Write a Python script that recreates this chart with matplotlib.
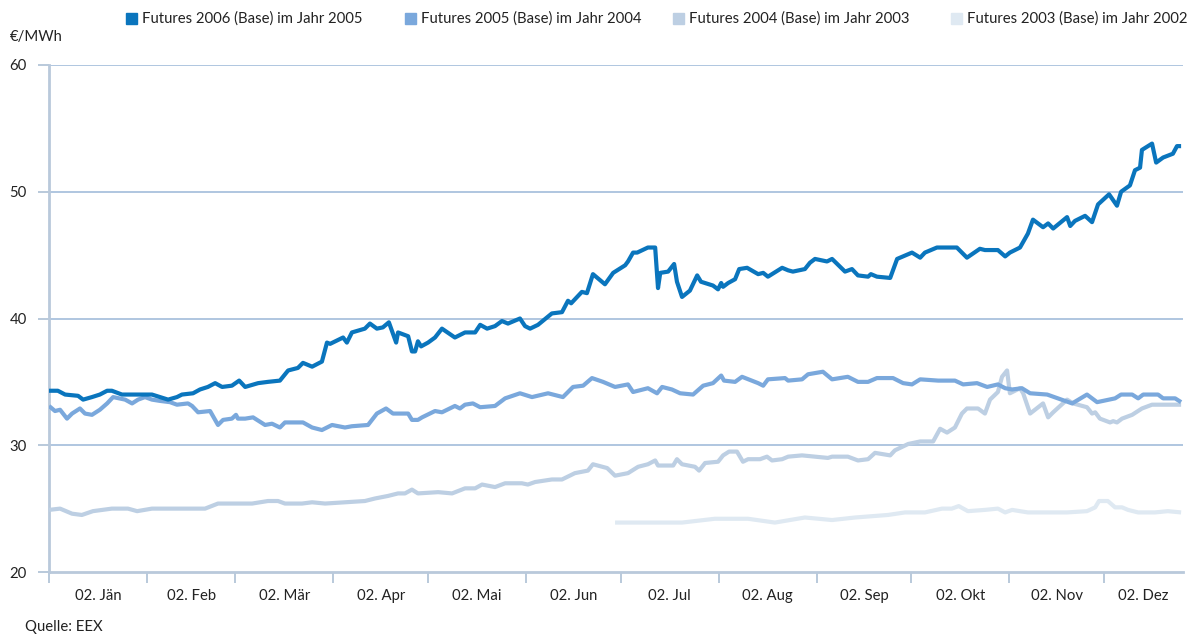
import matplotlib
matplotlib.use('Agg')
import matplotlib.pyplot as plt
from matplotlib.patches import Rectangle
import numpy as np

plt.rcParams['font.family'] = ['Lato', 'DejaVu Sans']

# day of year (0 = 1. Jan) and price in EUR/MWh
days_2006 = [0, 2.8, 5.1, 9.2, 10.8, 13.6, 16.1, 18.4, 19.9, 23.1, 26.3, 30.4, 32.6, 35.1, 37.7,
             40.5, 42.1, 45.6, 47.8, 50.3, 52.6, 54.8, 57.9, 60.2, 62.1, 66.2, 69.3, 73.1, 75.7,
             78.8, 80.4, 83.3, 86.4, 88.0, 89.0, 93.1, 94.3, 95.9, 100.0, 101.6, 103.8, 105.7,
             107.6, 109.9, 110.5, 113.7, 114.9, 115.9, 116.8, 117.8, 120.0, 122.2, 124.4, 128.5,
             131.7, 134.9, 136.5, 138.7, 141.2, 143.4, 145.3, 149.1, 150.7, 152.3, 154.8, 159.2,
             162.4, 164.3, 165.3, 168.7, 170.3, 172.2, 176.0, 178.6, 182.4, 183.3, 184.9, 186.2,
             189.6, 191.9, 192.8, 193.5, 196.0, 197.9, 198.8, 200.4, 202.9, 205.2, 206.4, 210.2,
             211.8, 212.8, 213.4, 215.0, 217.2, 218.5, 221.0, 224.5, 226.1, 227.6, 232.1, 234.0,
             235.5, 239.3, 240.9, 242.5, 246.3, 247.9, 252.0, 254.2, 256.1, 259.3, 260.2, 262.1,
             266.3, 268.5, 270.4, 273.2, 275.8, 277.3, 281.1, 282.7, 287.4, 290.6, 294.7, 296.3,
             300.4, 302.7, 304.2, 307.4, 309.9, 311.5, 314.7, 316.3, 317.9, 322.3, 323.3, 324.8,
             328.0, 330.2, 332.1, 335.6, 338.1, 339.4, 342.2, 343.8, 345.4, 346.0, 349.2, 350.5,
             352.7, 355.8, 357.1, 358.4]
price_2006 = [34.3, 34.3, 34.0, 33.9, 33.6, 33.8, 34.0, 34.3, 34.3, 34.0, 34.0, 34.0, 34.0, 33.8, 33.6,
              33.8, 34.0, 34.1, 34.4, 34.6, 34.9, 34.6, 34.7, 35.1, 34.6, 34.9, 35.0, 35.1, 35.9,
              36.1, 36.5, 36.2, 36.6, 38.1, 38.0, 38.5, 38.1, 38.9, 39.2, 39.6, 39.2, 39.3,
              39.7, 38.1, 38.9, 38.6, 37.4, 37.4, 38.2, 37.8, 38.1, 38.5, 39.2, 38.5,
              38.9, 38.9, 39.5, 39.2, 39.4, 39.8, 39.6, 40.0, 39.4, 39.2, 39.5, 40.4,
              40.5, 41.4, 41.2, 42.1, 42.0, 43.5, 42.7, 43.6, 44.2, 44.5, 45.2, 45.2,
              45.6, 45.6, 42.4, 43.6, 43.7, 44.3, 42.9, 41.7, 42.2, 43.4, 42.9, 42.6,
              42.3, 42.8, 42.5, 42.8, 43.1, 43.9, 44.0, 43.5, 43.6, 43.3, 44.0, 43.8,
              43.7, 43.9, 44.4, 44.7, 44.5, 44.7, 43.7, 43.9, 43.4, 43.3, 43.5, 43.3,
              43.2, 44.7, 44.9, 45.2, 44.8, 45.2, 45.6, 45.6, 45.6, 44.8, 45.5, 45.4,
              45.4, 44.9, 45.2, 45.6, 46.7, 47.8, 47.2, 47.5, 47.1, 48.0, 47.3, 47.7,
              48.1, 47.6, 49.0, 49.8, 48.9, 50.0, 50.5, 51.7, 51.9, 53.3, 53.8, 52.3,
              52.7, 53.0, 53.6, 53.6]

days_2005 = [0, 1.9, 3.5, 5.7, 7.3, 9.8, 11.4, 13.6, 16.1, 18.4, 20.3, 24.1, 26.3, 28.2, 30.4,
             32.6, 35.1, 38.3, 40.5, 44.0, 45.3, 47.2, 51.0, 53.5, 55.1, 57.9, 59.2, 59.8, 62.1,
             64.6, 68.4, 70.6, 73.1, 74.7, 80.4, 83.3, 86.4, 89.6, 93.7, 95.9, 101.0, 103.8,
             106.7, 108.9, 113.7, 114.9, 116.8, 118.1, 122.2, 124.4, 128.5, 130.1, 131.7, 134.2,
             136.5, 141.2, 144.4, 149.1, 152.9, 158.0, 162.7, 165.9, 169.1, 171.9, 175.4, 179.2,
             183.3, 184.9, 189.6, 192.5, 194.1, 197.2, 199.8, 203.9, 207.1, 210.2, 212.8, 213.7,
             217.2, 219.4, 224.5, 226.1, 227.6, 233.0, 234.0, 238.4, 240.3, 245.0, 247.9, 252.9,
             256.1, 259.3, 262.1, 267.2, 270.4, 273.2, 275.8, 281.5, 286.8, 289.4, 293.8, 297.0,
             300.4, 302.7, 304.9, 308.0, 310.6, 316.0, 323.9, 328.6, 331.8, 337.5, 339.4, 342.9,
             344.8, 346.4, 351.1, 352.7, 356.5, 358.4]
price_2005 = [33.1, 32.7, 32.8, 32.1, 32.5, 32.9, 32.5, 32.4, 32.8, 33.3, 33.8, 33.6, 33.3, 33.6, 33.8,
              33.6, 33.5, 33.4, 33.2, 33.3, 33.1, 32.6, 32.7, 31.6, 32.0, 32.1, 32.4, 32.1, 32.1,
              32.2, 31.6, 31.7, 31.4, 31.8, 31.8, 31.4, 31.2, 31.6, 31.4, 31.5, 31.6, 32.5,
              32.9, 32.5, 32.5, 32.0, 32.0, 32.2, 32.7, 32.6, 33.1, 32.9, 33.2, 33.3,
              33.0, 33.1, 33.7, 34.1, 33.8, 34.1, 33.8, 34.6, 34.7, 35.3, 35.0, 34.6,
              34.8, 34.2, 34.5, 34.1, 34.6, 34.4, 34.1, 34.0, 34.7, 34.9, 35.5, 35.1,
              35.0, 35.4, 34.9, 34.7, 35.2, 35.3, 35.1, 35.2, 35.6, 35.8, 35.2, 35.4,
              35.0, 35.0, 35.3, 35.3, 34.9, 34.8, 35.2, 35.1, 35.1, 34.8, 34.9, 34.6,
              34.8, 34.5, 34.4, 34.5, 34.1, 34.0, 33.3, 34.0, 33.4, 33.7, 34.0, 34.0,
              33.7, 34.0, 34.0, 33.7, 33.7, 33.4]

days_2004 = [0, 3.5, 7.3, 10.4, 13.9, 19.9, 25.0, 27.9, 32.6, 38.9, 45.3, 49.4, 53.5, 57.9, 64.3,
             69.3, 72.5, 74.7, 80.1, 83.3, 87.4, 93.7, 100.0, 103.2, 107.3, 110.5, 112.7, 114.9,
             116.8, 123.2, 127.6, 131.7, 134.9, 137.1, 141.2, 144.4, 149.7, 151.6, 153.9, 159.2,
             162.4, 166.5, 170.6, 172.2, 176.7, 179.2, 183.3, 186.5, 189.6, 191.9, 192.8, 197.6,
             198.8, 200.4, 204.5, 205.8, 207.7, 211.8, 213.4, 215.3, 217.8, 219.7, 221.3, 225.1,
             227.3, 228.9, 232.1, 234.0, 238.4, 242.5, 246.6, 247.9, 252.9, 256.1, 259.3, 261.5,
             266.3, 267.8, 272.0, 275.8, 279.9, 282.1, 284.3, 286.8, 289.0, 290.6, 294.1, 296.3,
             297.9, 300.4, 301.7, 303.3, 304.2, 307.4, 308.4, 310.6, 314.7, 316.3, 317.9, 322.3,
             324.2, 328.6, 330.2, 331.2, 332.7, 335.9, 336.9, 338.1, 339.7, 342.9, 346.0, 349.2,
             353.3, 358.4]
price_2004 = [24.9, 25.0, 24.6, 24.5, 24.8, 25.0, 25.0, 24.8, 25.0, 25.0, 25.0, 25.0, 25.4, 25.4, 25.4,
              25.6, 25.6, 25.4, 25.4, 25.5, 25.4, 25.5, 25.6, 25.8, 26.0, 26.2, 26.2, 26.5,
              26.2, 26.3, 26.2, 26.6, 26.6, 26.9, 26.7, 27.0, 27.0, 26.9, 27.1, 27.3,
              27.3, 27.8, 28.0, 28.5, 28.2, 27.6, 27.8, 28.3, 28.5, 28.8, 28.4, 28.4,
              28.9, 28.5, 28.3, 28.0, 28.6, 28.7, 29.2, 29.5, 29.5, 28.7, 28.9, 28.9,
              29.1, 28.8, 28.9, 29.1, 29.2, 29.1, 29.0, 29.1, 29.1, 28.8, 28.9, 29.4,
              29.2, 29.6, 30.1, 30.3, 30.3, 31.3, 31.0, 31.4, 32.5, 32.9, 32.9, 32.5,
              33.6, 34.2, 35.4, 35.9, 34.1, 34.5, 34.1, 32.5, 33.3, 32.2, 32.6, 33.6,
              33.3, 33.0, 32.5, 32.6, 32.1, 31.8, 31.9, 31.8, 32.1, 32.4, 32.9, 33.2,
              33.2, 33.2]

days_2003 = [179.2, 189.6, 200.4, 210.8, 221.3, 229.8, 239.3, 247.9, 255.2, 265.6, 271.0, 277.3,
             282.7, 285.8, 288.0, 290.9, 296.3, 300.4, 302.7, 304.9, 309.9, 316.3, 322.3, 328.6,
             331.2, 332.4, 335.2, 337.5, 339.7, 341.6, 344.8, 350.1, 354.2, 358.4]
price_2003 = [23.9, 23.9, 23.9, 24.2, 24.2, 23.9, 24.3, 24.1, 24.3, 24.5, 24.7, 24.7,
              25.0, 25.0, 25.2, 24.8, 24.9, 25.0, 24.7, 24.9, 24.7, 24.7, 24.7, 24.8,
              25.1, 25.6, 25.6, 25.1, 25.1, 24.9, 24.7, 24.7, 24.8, 24.7]

labels = ['Futures 2006 (Base) im Jahr 2005', 'Futures 2005 (Base) im Jahr 2004',
          'Futures 2004 (Base) im Jahr 2003', 'Futures 2003 (Base) im Jahr 2002']
colors = ['#0a75bd', '#7aa8dc', '#bdcfe3', '#dfe9f2']

month_starts = [0, 31, 59, 90, 120, 151, 181, 212, 243, 273, 304, 334]
month_names = ['02. Jän', '02. Feb', '02. Mär', '02. Apr', '02. Mai', '02. Jun',
               '02. Jul', '02. Aug', '02. Sep', '02. Okt', '02. Nov', '02. Dez']
x_end = 359

fig = plt.figure(figsize=(11.94, 6.37), dpi=100)
ax = fig.add_axes([49 / 1194, 1 - 572 / 637, (1183 - 49) / 1194, (572 - 65) / 637])

grid_c = '#a9c1dd'
axis_c = '#b9c9db'
for yv in [30, 40, 50, 60]:
    ax.axhline(yv, color=grid_c, lw=1.3, zorder=1)

series = [(days_2003, price_2003), (days_2004, price_2004),
          (days_2005, price_2005), (days_2006, price_2006)]
for (d, p), c in zip(series, colors[::-1]):
    ax.plot(d, p, color=c, lw=3.0, solid_joinstyle='round', solid_capstyle='butt', zorder=3)

ax.set_xlim(0, x_end)
ax.set_ylim(20, 60)
for s in ['top', 'right']:
    ax.spines[s].set_visible(False)
for s in ['left', 'bottom']:
    ax.spines[s].set_color(axis_c)
    ax.spines[s].set_linewidth(2.0)

ax.set_yticks([20, 30, 40, 50, 60])
ax.tick_params(axis='y', length=8, width=1.4, color=axis_c, labelsize=10.7, pad=8,
               labelcolor='#222222')

mids = [(a + b) / 2 for a, b in zip(month_starts, month_starts[1:] + [x_end])]
ax.set_xticks(month_starts)
ax.set_xticklabels([])
ax.set_xticks(mids, minor=True)
ax.set_xticklabels(month_names, minor=True)
ax.tick_params(axis='x', which='major', length=8, width=1.4, color=axis_c, direction='out')
ax.tick_params(axis='x', which='minor', length=0, labelsize=10.7, pad=12, labelcolor='#222222')

# legend along the top
sq_x = [126, 405, 673, 951]
for x0, lab, c in zip(sq_x, labels, colors):
    fig.patches.append(Rectangle((x0 / 1194, 1 - 24 / 637), 11 / 1194, 11 / 637,
                                 transform=fig.transFigure, color=c, figure=fig))
    fig.text((x0 + 16) / 1194, 1 - 19 / 637, lab, fontsize=10.7, va='center', ha='left',
             color='#222222')

fig.text(10 / 1194, 1 - 37 / 637, '€/MWh', fontsize=10.7, va='center', ha='left', color='#222222')
fig.text(25 / 1194, 1 - 627 / 637, 'Quelle: EEX', fontsize=10.7, va='center', ha='left',
         color='#222222')

fig.savefig('out.png', dpi=100)
